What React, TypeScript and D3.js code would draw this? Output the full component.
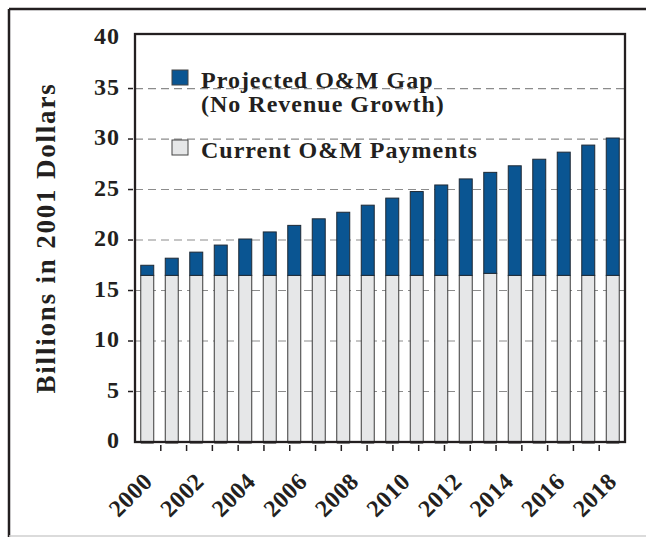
import React from "react";
import * as d3 from "d3";

const years = d3.range(2000, 2020).map(String);
const currentPayments = [16.5, 16.5, 16.5, 16.5, 16.5, 16.5, 16.5, 16.5, 16.5, 16.5, 16.5, 16.5, 16.5, 16.5, 16.7, 16.5, 16.5, 16.5, 16.5, 16.5];
const totalNeeds = [17.5, 18.2, 18.8, 19.5, 20.1, 20.8, 21.45, 22.1, 22.75, 23.45, 24.15, 24.8, 25.45, 26.05, 26.7, 27.35, 28.0, 28.7, 29.4, 30.1];
const axisCategories = d3.range(2000, 2019).map(String);
const labelYears = ["2000", "2002", "2004", "2006", "2008", "2010", "2012", "2014", "2016", "2018"];
const yTicks = [0, 5, 10, 15, 20, 25, 30, 35, 40];
const gridTicks = [5, 10, 15, 20, 25, 30, 35];
const legendItems = [
  { lines: ["Projected O&M Gap", "(No Revenue Growth)"], color: "#0a5592" },
  { lines: ["Current O&M Payments"], color: "#e6e7e8" },
];

const W = 646;
const H = 537;
const L = 135, R = 625, T = 34, B = 442;
const FONT = "'Liberation Serif', 'Times New Roman', serif";
const INK = "#231f20";

export default function App() {
  const y = d3.scaleLinear().domain([0, 40.4]).range([B, T]);
  const xb = d3.scaleBand().domain(years).range([L, R]).paddingInner(0.47).paddingOuter(0.235);
  const xa = d3.scaleBand().domain(axisCategories).range([L, R]);
  const gap = totalNeeds.map((t, i) => t - currentPayments[i]);

  return (
    <svg width={W} height={H} style={{ position: "absolute", left: 0, top: 0, background: "#fff" }}>
      {/* outer frame */}
      <line x1={9} y1={9} x2={W} y2={9} stroke={INK} strokeWidth={2.5} />
      <line x1={9} y1={9} x2={9} y2={H} stroke={INK} strokeWidth={2.5} />
      <line x1={9} y1={536} x2={W} y2={536} stroke="#cfcfcf" strokeWidth={1.5} />

      {/* gridlines */}
      {gridTicks.map((t) => (
        <line key={"g" + t} x1={L} x2={R} y1={y(t)} y2={y(t)} stroke="#8c8c8c" strokeWidth={1.2} strokeDasharray="8,5" />
      ))}

      {/* y ticks and labels */}
      {yTicks.map((t) => (
        <g key={"y" + t}>
          {t > 0 && t < 40 && <line x1={128} x2={133} y1={y(t)} y2={y(t)} stroke={INK} strokeWidth={1.5} />}
          <text x={120} y={y(t)} dy="0.25em" textAnchor="end" fontFamily={FONT} fontWeight="bold" fontSize={24} letterSpacing={1} fill={INK}>
            {t}
          </text>
        </g>
      ))}

      {/* bars */}
      {years.map((yr, i) => (
        <g key={"b" + yr}>
          <rect x={xb(yr)} y={y(currentPayments[i])} width={xb.bandwidth()} height={B - y(currentPayments[i])} fill="#e6e7e8" stroke="#3a3a3a" strokeWidth={1} />
          <rect x={xb(yr)} y={y(currentPayments[i] + gap[i])} width={xb.bandwidth()} height={y(currentPayments[i]) - y(currentPayments[i] + gap[i])} fill="#0a5592" stroke="#1f2a36" strokeWidth={1} />
          <rect x={xb(yr)} y={B} width={xb.bandwidth()} height={2} fill="#8a8a8a" />
        </g>
      ))}

      {/* plot frame */}
      <rect x={L} y={T} width={R - L} height={B - T} fill="none" stroke={INK} strokeWidth={2.3} />

      {/* x ticks at category boundaries */}
      {axisCategories.slice(1).map((c) => (
        <line key={"xt" + c} x1={xa(c)} x2={xa(c)} y1={B + 3} y2={B + 9} stroke={INK} strokeWidth={1.5} />
      ))}

      {/* x labels */}
      {labelYears.map((c) => {
        const cx = (xa(c) as number) + xa.bandwidth() / 2 - 6;
        const cy = 471;
        return (
          <g key={"xl" + c} transform={`translate(${cx},${cy})`}>
            <g transform="rotate(-45)">
              <text x={0} y={0} textAnchor="end" dominantBaseline="hanging" fontFamily={FONT} fontWeight="bold" fontSize={24} letterSpacing={0.5} fill={INK}>
                {c}
              </text>
            </g>
          </g>
        );
      })}

      {/* y title */}
      <g transform="translate(55,238)">
        <g transform="rotate(-90)">
          <text x={0} y={0} textAnchor="middle" fontFamily={FONT} fontWeight="bold" fontSize={27} letterSpacing={1.8} fill={INK}>
            Billions in 2001 Dollars
          </text>
        </g>
      </g>

      {/* legend */}
      {legendItems.map((it, i) => {
        const top = i === 0 ? 70 : 140;
        return (
          <g key={"lg" + i}>
            <rect x={172} y={top} width={16} height={15} fill={it.color} stroke="#444" strokeWidth={1} />
            {it.lines.map((ln, j) => (
              <text key={j} x={201} y={top + 18 + j * 24} fontFamily={FONT} fontWeight="bold" fontSize={24} letterSpacing={1} fill={INK}>
                {ln}
              </text>
            ))}
          </g>
        );
      })}
    </svg>
  );
}
